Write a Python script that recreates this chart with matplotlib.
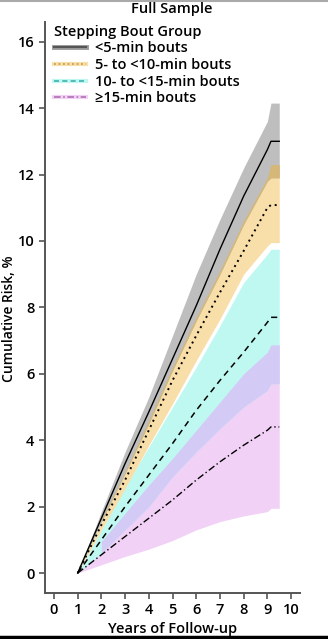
import numpy as np
import matplotlib.pyplot as plt
from matplotlib.lines import Line2D

plt.rcParams['font.family'] = ['Open Sans', 'DejaVu Sans']

# Years of follow-up (shared grid for all curves)
years = [1, 2, 3, 4, 5, 6, 7, 8, 9, 9.15, 9.5]

# <5-min bouts
lt5 = [0, 1.65, 3.3, 4.85, 6.45, 8.05, 9.75, 11.35, 12.75, 13.0, 13.0]
lt5_hi = [0, 1.85, 3.65, 5.3, 7.15, 9.0, 10.65, 12.2, 13.6, 14.15, 14.15]
lt5_lo = [0, 1.55, 3.0, 4.5, 6.1, 7.6, 9.0, 10.5, 11.8, 11.9, 11.9]
# 5- to <10-min bouts
b5 = [0, 1.45, 2.8, 4.3, 5.8, 7.15, 8.45, 9.7, 11.0, 11.08, 11.08]
b5_hi = [0, 1.6, 3.05, 4.6, 6.2, 7.7, 9.1, 10.6, 11.9, 12.3, 12.3]
b5_lo = [0, 1.3, 2.55, 3.85, 5.1, 6.4, 7.65, 9.0, 9.85, 9.95, 9.95]
# 10- to <15-min bouts
b10 = [0, 1.0, 2.0, 2.95, 3.9, 4.9, 5.8, 6.65, 7.55, 7.7, 7.7]
b10_hi = [0, 1.3, 2.6, 3.8, 5.0, 6.2, 7.45, 8.75, 9.6, 9.75, 9.75]
b10_lo = [0, 0.6, 1.3, 2.0, 2.9, 3.65, 4.35, 5.0, 5.5, 5.7, 5.7]
# >=15-min bouts
b15 = [0, 0.55, 1.1, 1.65, 2.2, 2.8, 3.35, 3.85, 4.3, 4.4, 4.4]
b15_hi = [0, 0.95, 1.8, 2.65, 3.45, 4.3, 5.15, 6.0, 6.65, 6.87, 6.87]
b15_lo = [0, 0.25, 0.5, 0.72, 0.98, 1.3, 1.55, 1.72, 1.85, 1.95, 1.95]

labels = ['<5-min bouts', '5- to <10-min bouts', '10- to <15-min bouts', '\u226515-min bouts']

c_gray = '#bebebe'
c_tan = '#f8dea8'
c_cyan = '#bff8f1'
c_pink = '#f1d2f6'
c_lav = '#d3caf6'
c_dtan = '#d5b877'

fig = plt.figure(figsize=(3.28, 6.39), dpi=100)
ax = fig.add_axes([0.137, 0.072, 0.778, 0.894])

ax.fill_between(years, b15_lo, b15_hi, color=c_pink, lw=0)
ax.fill_between(years, b10_lo, b10_hi, color=c_cyan, lw=0)
ov_lo = np.maximum(b15_lo, b10_lo)
ov_hi = np.minimum(b15_hi, b10_hi)
ax.fill_between(years, ov_lo, ov_hi, where=ov_hi > ov_lo, color=c_lav, lw=0)
ax.fill_between(years, b5_lo, b5_hi, color=c_tan, lw=0)
ax.fill_between(years, lt5_lo, lt5_hi, color=c_gray, lw=0)
ov_lo = np.maximum(b5_lo, lt5_lo)
ov_hi = np.minimum(b5_hi, lt5_hi)
ax.fill_between(years, ov_lo, ov_hi, where=ov_hi > ov_lo, color=c_dtan, lw=0)

ax.plot(years, lt5, color='black', lw=1.0, ls='-')
ax.plot(years, b5, color='black', lw=1.4, ls=(0, (1, 2)))
ax.plot(years, b10, color='black', lw=1.1, ls=(0, (4, 3)))
ax.plot(years, b15, color='black', lw=1.0, ls=(0, (5, 2, 1, 2)))

handles = [
    (Line2D([], [], color='#9a9a9a', lw=3.5), Line2D([], [], color='#555555', lw=1.5)),
    (Line2D([], [], color=c_tan, lw=3), Line2D([], [], color='#c8a050', lw=1.3, ls=(0, (1, 1.5)))),
    (Line2D([], [], color=c_cyan, lw=3), Line2D([], [], color='#40b0b0', lw=1.2, ls=(0, (3, 2)))),
    (Line2D([], [], color=c_pink, lw=3), Line2D([], [], color='#b070b0', lw=1.2, ls=(0, (4, 1.5, 1, 1.5)))),
]
leg = ax.legend(handles, labels, title='Stepping Bout Group', loc='upper left',
                bbox_to_anchor=(0.0, 1.01), frameon=False, fontsize=10.5,
                title_fontsize=10.5, handlelength=2.2, handletextpad=0.6,
                labelspacing=0.18, borderaxespad=0.2, alignment='left')
leg.get_title().set_fontweight('semibold')
for t in leg.get_texts():
    t.set_fontweight('semibold')

ax.set_xlim(-0.38, 10.38)
ax.set_ylim(-0.6, 16.6)
ax.set_xticks(range(0, 11))
ax.set_yticks(range(0, 17, 2))
for s in ['top', 'right']:
    ax.spines[s].set_visible(False)
for s in ['left', 'bottom']:
    ax.spines[s].set_linewidth(1.4)
    ax.spines[s].set_color('#555555')
ax.tick_params(direction='out', length=4, width=1.2, color='#555555', labelsize=10.5)
for lab in ax.get_xticklabels() + ax.get_yticklabels():
    lab.set_fontweight('semibold')

ax.set_xlabel('Years of Follow-up', fontsize=10.5, fontweight='semibold')
ax.xaxis.set_label_coords(0.5, -0.05)
ax.set_ylabel('Cumulative Risk, %', fontsize=10, fontweight='semibold')
ax.yaxis.set_label_coords(-0.115, 0.48)
fig.text(0.525, 0.986, 'Full Sample', ha='center', va='center', fontsize=10.5, fontweight='semibold')

# frame edges seen in the screenshot
fig.add_artist(Line2D([0, 1], [0.999, 0.999], color='#aaaaaa', lw=1.5, transform=fig.transFigure))
fig.add_artist(Line2D([0, 1], [0.003, 0.003], color='black', lw=2.5, transform=fig.transFigure))

fig.savefig('out.png', dpi=100)
